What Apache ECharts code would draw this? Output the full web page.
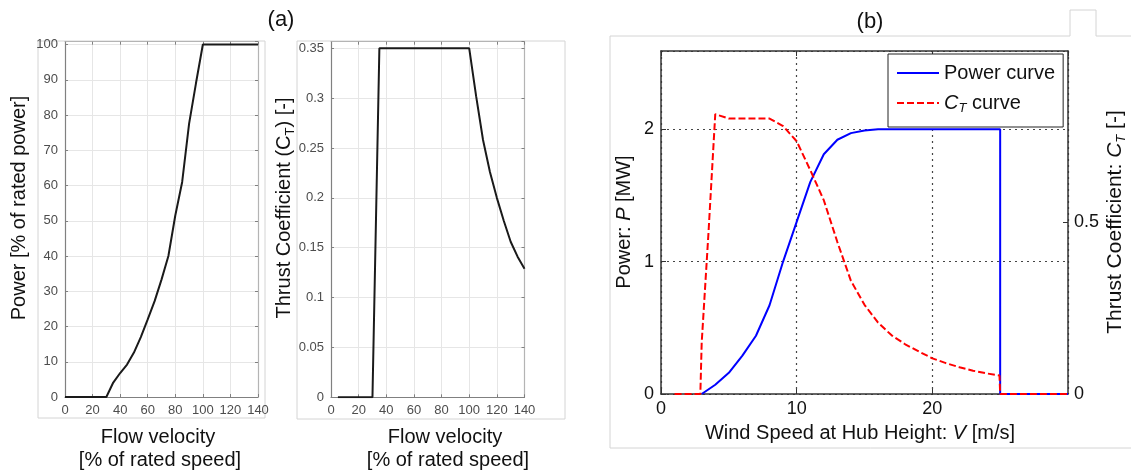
<!DOCTYPE html>
<html><head><meta charset="utf-8">
<script src="https://cdn.jsdelivr.net/npm/echarts@6/dist/echarts.min.js"></script>
<style>html,body{margin:0;padding:0;background:#fff}#c{width:1131px;height:472px}</style>
</head><body><div id="c"></div>
<script>
// ---- (a) left: power vs flow velocity ----
const flowVelPower = [0, 30, 35, 40, 45, 50, 55, 60, 65, 70, 75, 80, 85, 90, 95, 100, 140];
const powerPct     = [0, 0, 4.1, 6.8, 9.2, 12.6, 17, 22, 27.2, 33.3, 40, 51.5, 61, 77.5, 89, 100, 100];
// ---- (a) right: thrust coefficient vs flow velocity ----
const flowVelThrust = [5, 30, 35, 100, 105, 110, 115, 120, 125, 130, 135, 140];
const thrustCoef    = [0, 0, 0.35, 0.35, 0.302, 0.258, 0.226, 0.2, 0.177, 0.156, 0.141, 0.129];
// ---- (b): power curve and CT curve vs wind speed ----
const windSpeedPower = [3, 4, 5, 6, 7, 8, 9, 10, 11, 12, 13, 14, 15, 16, 25, 25, 30];
const powerMW        = [0, 0.07, 0.16, 0.29, 0.44, 0.67, 1.0, 1.3, 1.6, 1.81, 1.92, 1.97, 1.99, 2.0, 2.0, 0, 0];
const windSpeedCT = [1, 2.9, 3.0, 3.5, 4.0, 5, 6, 7, 8, 9, 10, 11, 12, 13, 14, 15, 16, 17, 18, 19, 20, 21, 22, 23, 24, 24.95, 25, 30];
const ctValues    = [0, 0, 0.15, 0.47, 0.816, 0.803, 0.803, 0.803, 0.803, 0.781, 0.737, 0.653, 0.565, 0.443, 0.33, 0.26, 0.208, 0.171, 0.145, 0.124, 0.104, 0.09, 0.078, 0.068, 0.06, 0.054, 0, 0];
const legendNames = ['Power curve', 'CT curve'];

const FONT = 'Liberation Sans, Arial, Helvetica, sans-serif';
const pairs = (xs, ys) => xs.map((x, i) => [x, ys[i]]);

function axA(grid, pos, min, max, interval, labels, extra) {
  return {
    gridIndex: grid, type: 'value', position: pos, min, max, interval,
    axisLine: { show: true, onZero: false, lineStyle: { color: labels ? '#808080' : '#b4b4b4', width: 1.2 } },
    axisTick: { show: true, inside: true, length: 3, lineStyle: { color: '#808080' } },
    axisLabel: { show: labels, color: '#4d4d4d', fontSize: 13, fontFamily: FONT, margin: 7, showMaxLabel: extra ? false : true },
    splitLine: { show: labels, lineStyle: { color: '#e6e6e6', width: 1 } }
  };
}
function axB(grid, pos, min, max, interval, labels, split, margin) {
  return {
    gridIndex: grid, type: 'value', position: pos, min, max, interval,
    axisLine: { show: true, onZero: false, lineStyle: { color: '#333', width: 1.5 } },
    axisTick: { show: true, inside: true, length: 5, lineStyle: { color: '#333' } },
    axisLabel: { show: labels, color: '#111', fontSize: 18, fontFamily: FONT, margin: margin, showMaxLabel: false },
    splitLine: { show: split, lineStyle: { color: '#444', width: 1.2, type: [2, 4] } }
  };
}

const chart = echarts.init(document.getElementById('c'), null, { renderer: 'canvas' });
function rich(fs) {
  return {
    a: { fontSize: fs, fontFamily: FONT, color: '#111', lineHeight: fs + 4 },
    i: { fontSize: fs, fontFamily: FONT, color: '#111', fontStyle: 'italic', lineHeight: fs + 4 },
    s: { fontSize: 13, fontFamily: FONT, color: '#111', lineHeight: 12, verticalAlign: 'bottom' },
    si: { fontSize: 13, fontFamily: FONT, color: '#111', fontStyle: 'italic', lineHeight: 12, verticalAlign: 'bottom' }
  };
}
function txt(x, y, text, opts) {
  const fs = (opts && opts.fs) || 20;
  const el = { type: 'text', x, y, silent: true, z: 100,
    style: { text, fontSize: fs, fontFamily: FONT, fill: '#111', align: 'center', verticalAlign: 'middle', rich: rich(fs) } };
  if (opts && opts.rotation !== undefined) el.rotation = opts.rotation;
  return el;
}

const option = {
  animation: false,
  backgroundColor: '#fff',
  grid: [
    { left: 65, top: 41.7, width: 193, height: 355.3, outerBoundsMode: 'none', containLabel: false },
    { left: 331, top: 41.7, width: 193.5, height: 355.6, outerBoundsMode: 'none', containLabel: false },
    { left: 661, top: 51, width: 407, height: 343, outerBoundsMode: 'none', containLabel: false }
  ],
  xAxis: [
    axA(0, 'bottom', 0, 140, 20, true),
    axA(0, 'top', 0, 140, 20, false),
    axA(1, 'bottom', 0, 140, 20, true),
    axA(1, 'top', 0, 140, 20, false),
    axB(2, 'bottom', 0, 30, 10, true, true, 6),
    axB(2, 'top', 0, 30, 10, false, false, 6)
  ],
  yAxis: [
    axA(0, 'left', 0, 100.8, 10, true, true),
    axA(0, 'right', 0, 100.8, 10, false, true),
    axA(1, 'left', 0, 0.3566, 0.05, true, true),
    axA(1, 'right', 0, 0.3566, 0.05, false, true),
    axB(2, 'left', 0, 2.59, 1, true, true, 7),
    axB(2, 'right', 0, 1, 0.5, true, false, 6)
  ],
  legend: {
    data: legendNames,
    left: 888, top: 54, orient: 'vertical',
    padding: [7, 8, 12, 8], itemGap: 6, itemWidth: 42, itemHeight: 14,
    backgroundColor: '#fff', borderColor: '#222', borderWidth: 1,
    selectedMode: false,
    itemStyle: { opacity: 0 },
    formatter: n => n === 'CT curve' ? '{i|C}{si|T}{a| curve}' : '{a|' + n + '}',
    textStyle: { fontSize: 20, fontFamily: FONT, color: '#111', lineHeight: 24, rich: rich(20) }
  },
  series: [
    { type: 'line', name: 'Power', xAxisIndex: 0, yAxisIndex: 0, data: pairs(flowVelPower, powerPct),
      symbol: 'none', lineStyle: { color: '#1a1a1a', width: 2 }, z: 5 },
    { type: 'line', name: 'Thrust', xAxisIndex: 2, yAxisIndex: 2, data: pairs(flowVelThrust, thrustCoef),
      symbol: 'none', lineStyle: { color: '#1a1a1a', width: 2 }, z: 5 },
    { type: 'line', name: legendNames[0], xAxisIndex: 4, yAxisIndex: 4, data: pairs(windSpeedPower, powerMW),
      symbol: 'none', color: '#0000ff', lineStyle: { color: '#0000ff', width: 2 }, z: 5 },
    { type: 'line', name: legendNames[1], xAxisIndex: 4, yAxisIndex: 5, data: pairs(windSpeedCT, ctValues),
      symbol: 'none', color: '#ff0000', lineStyle: { color: '#ff0000', width: 2, type: [7, 3] }, z: 6 }
  ],
  graphic: [
    { type: 'rect', shape: { x: 38, y: 41, width: 227, height: 377 }, style: { fill: 'none', stroke: '#d4d4d4', lineWidth: 1 }, z: -10, silent: true },
    { type: 'rect', shape: { x: 297, y: 41, width: 268, height: 378 }, style: { fill: 'none', stroke: '#d4d4d4', lineWidth: 1 }, z: -10, silent: true },
    { type: 'polyline', shape: { points: [[1131, 36], [1096, 36], [1096, 10], [1070, 10], [1070, 36], [610, 36], [610, 448], [1131, 448]] },
      style: { fill: 'none', stroke: '#d4d4d4', lineWidth: 1 }, z: -10, silent: true },
    txt(281, 20, '(a)', { fs: 22 }),
    txt(870, 22, '(b)', { fs: 22 }),
    txt(19, 208, 'Power [% of rated power]', { rotation: Math.PI / 2 }),
    txt(158, 437, 'Flow velocity'),
    txt(160, 460, '[% of rated speed]'),
    txt(284.5, 208, '{a|Thrust Coefficient (C}{s|T}{a|) [-]}', { rotation: Math.PI / 2 }),
    txt(445, 437, 'Flow velocity'),
    txt(448, 460, '[% of rated speed]'),
    txt(624, 222, '{a|Power: }{i|P}{a| [MW]}', { rotation: Math.PI / 2 }),
    txt(860, 433, '{a|Wind Speed at Hub Height: }{i|V}{a| [m/s]}'),
    txt(1115, 222, '{a|Thrust Coefficient: }{i|C}{si|T}{a| [-]}', { rotation: Math.PI / 2, fs: 21 })
  ]
};
chart.setOption(option);
</script>
</body></html>
